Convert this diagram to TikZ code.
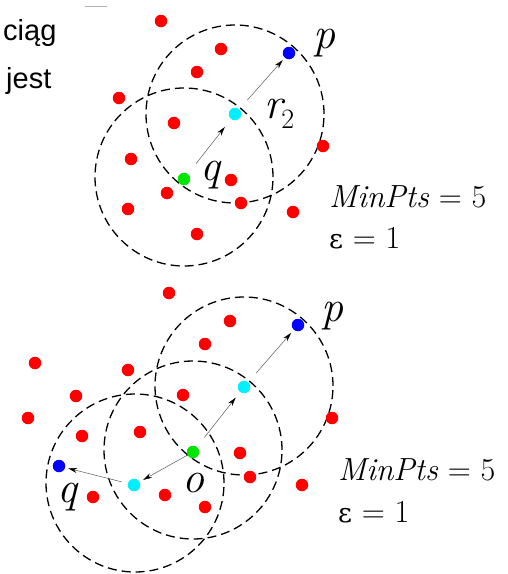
\documentclass[tikz,border=0pt]{standalone}
\usepackage{fontspec}
\newfontfamily\epsfont{DejaVu Serif}
\newfontfamily\sidefont{Liberation Sans}
\usetikzlibrary{arrows.meta}
\definecolor{dotred}{RGB}{255,0,0}
\definecolor{dotblue}{RGB}{0,0,255}
\definecolor{dotcyan}{RGB}{0,240,255}
\definecolor{dotgreen}{RGB}{0,230,0}
\newcommand\myeps{{\epsfont\fontsize{27}{30}\selectfont ε}}
\begin{document}
\begin{tikzpicture}[x=1pt,y=-1pt,
  dot/.style={circle,inner sep=0pt,minimum size=12.5pt,fill=#1},
  rng/.style={draw=black,dash pattern=on 9pt off 5pt,line width=1.3pt},
  arr/.style={draw=gray!70!black,line width=0.5pt,-{Stealth[length=9pt,width=5pt,black]}},
  lbl/.style={font=\rmfamily\fontsize{44}{44}\selectfont\itshape,inner sep=0pt},
  txt/.style={font=\rmfamily\fontsize{32}{40}\selectfont,anchor=base west,inner sep=0pt},
  side/.style={font=\sidefont\fontsize{29}{34}\selectfont,anchor=base west,inner sep=0pt}]
\useasboundingbox (0,0) rectangle (507,574);

% ---------- top diagram ----------
\coordinate (A1c) at (235,114);
\coordinate (A2c) at (184,177);
\draw[rng] (A1c) circle (89pt);
\draw[rng] (A2c) circle (89pt);

\node[dot=dotred] (ra1) at (161,21) {};
\node[dot=dotred] (ra2) at (221,49) {};
\node[dot=dotred] (ra3) at (197,72) {};
\node[dot=dotred] (ra4) at (119,98) {};
\node[dot=dotred] (ra5) at (174,123) {};
\node[dot=dotred] (ra6) at (323,146) {};
\node[dot=dotred] (ra7) at (131,159) {};
\node[dot=dotred] (ra8) at (231,180) {};
\node[dot=dotred] (ra9) at (167,193) {};
\node[dot=dotred] (ra10) at (241,203) {};
\node[dot=dotred] (ra11) at (128,209) {};
\node[dot=dotred] (ra12) at (293,212) {};
\node[dot=dotred] (ra13) at (197,234) {};

\node[dot=dotblue] (pA) at (289,53) {};
\node[dot=dotcyan] (cA) at (235,114) {};
\node[dot=dotgreen] (gA) at (184,179) {};

\draw[arr,shorten <=13pt,shorten >=10pt] (gA) -- (cA);
\draw[arr,shorten <=12pt,shorten >=3pt] (cA) -- (pA);

\node[lbl] (lpA) at (324,43) {p};
\node[lbl] (lqA) at (210,175) {q};
\node[inner sep=0pt,anchor=base west,font=\rmfamily\fontsize{44}{44}\selectfont] (lrA) at (264,118)
  {\itshape r\kern-1pt\raisebox{-10pt}{\fontsize{28}{28}\selectfont\upshape 2}};

\node[txt] (mA) at (329,207) {\textit{MinPts} = 5};
\node[txt] (eA) at (329,248) {\myeps{} = 1};

% ---------- bottom diagram ----------
\coordinate (B1c) at (244,386);
\coordinate (B2c) at (193,450);
\coordinate (B3c) at (135,483);
\draw[rng] (B1c) circle (89pt);
\draw[rng] (B2c) circle (89pt);
\draw[rng] (B3c) circle (89pt);

\node[dot=dotred] (rb1) at (169,293) {};
\node[dot=dotred] (rb2) at (230,321) {};
\node[dot=dotred] (rb3) at (205,344) {};
\node[dot=dotred] (rb4) at (35,363) {};
\node[dot=dotred] (rb5) at (128,370) {};
\node[dot=dotred] (rb6) at (76,396) {};
\node[dot=dotred] (rb7) at (183,395) {};
\node[dot=dotred] (rb8) at (28,418) {};
\node[dot=dotred] (rb9) at (332,418) {};
\node[dot=dotred] (rb10) at (82,436) {};
\node[dot=dotred] (rb11) at (140,432) {};
\node[dot=dotred] (rb12) at (240,453) {};
\node[dot=dotred] (rb13) at (250,477) {};
\node[dot=dotred] (rb14) at (302,485) {};
\node[dot=dotred] (rb15) at (93,497) {};
\node[dot=dotred] (rb16) at (165,495) {};
\node[dot=dotred] (rb17) at (205,507) {};

\node[dot=dotblue] (pB) at (298,325) {};
\node[dot=dotcyan] (c1B) at (244,387) {};
\node[dot=dotgreen] (oB) at (193,452) {};
\node[dot=dotcyan] (c2B) at (134,485) {};
\node[dot=dotblue] (qB) at (59,466) {};

\draw[arr,shorten <=12pt,shorten >=7pt] (oB) -- (c1B);
\draw[arr,shorten <=12pt,shorten >=4pt] (c1B) -- (pB);
\draw[arr,shorten <=0pt,shorten >=4pt] (oB) -- (c2B);
\draw[arr,shorten <=6pt,shorten >=3pt] (c2B) -- (qB);

\node[lbl] (lpB) at (332,316) {p};
\node[lbl] (lqB) at (67,497) {q};
\node[lbl] (loB) at (193,483) {o};

\node[txt] (mB) at (338,480) {\textit{MinPts} = 5};
\node[txt] (eB) at (338,522) {\myeps{} = 1};

% side text
\node[side] (t1) at (3,40) {ciąg};
\node[side] (t2) at (6,88) {jest};
\draw[gray!60,line width=1pt] (85,6) -- (107,6);
\end{tikzpicture}
\end{document}
